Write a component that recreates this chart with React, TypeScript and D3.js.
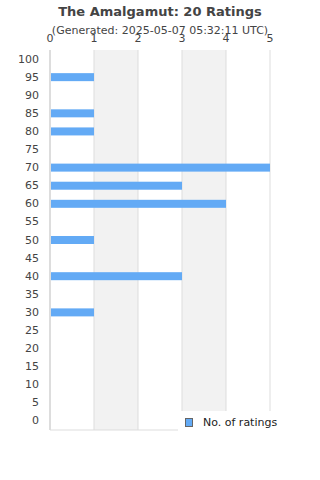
import React from "react";
import * as d3 from "d3";

const categories = [100, 95, 90, 85, 80, 75, 70, 65, 60, 55, 50, 45, 40, 35, 30, 25, 20, 15, 10, 5, 0];
const ratings = [0, 1, 0, 1, 1, 0, 5, 3, 4, 0, 1, 0, 3, 0, 1, 0, 0, 0, 0, 0, 0];
const xTicks = [0, 1, 2, 3, 4, 5];

const WIDTH = 320;
const HEIGHT = 480;
const MARGIN = { top: 50, right: 50, bottom: 50, left: 50 };
const FONT = "DejaVu Sans, sans-serif";
const BAR = "#63aaf5";

export default function App() {
  const innerW = WIDTH - MARGIN.left - MARGIN.right;
  const innerH = HEIGHT - MARGIN.top - MARGIN.bottom;

  const x = d3.scaleLinear().domain([0, 5]).range([MARGIN.left, MARGIN.left + innerW]);
  const y = d3
    .scaleBand<number>()
    .domain(categories)
    .range([MARGIN.top, MARGIN.top + innerH]);

  const barH = 8;

  return (
    <svg
      width={WIDTH}
      height={HEIGHT}
      style={{ position: "absolute", left: 0, top: 0, background: "#fff" }}
      fontFamily={FONT}
    >
      {/* alternating bands */}
      {xTicks.slice(0, -1).map((t, i) =>
        i % 2 === 1 ? (
          <rect key={"band" + t} x={x(t)} y={MARGIN.top} width={x(t + 1) - x(t)} height={innerH} fill="#f2f2f2" />
        ) : null
      )}
      {/* grid lines */}
      {xTicks.map((t) => (
        <line key={"g" + t} x1={x(t)} x2={x(t)} y1={MARGIN.top} y2={MARGIN.top + innerH} stroke="#ddd" strokeWidth={1} />
      ))}
      <line x1={MARGIN.left} x2={MARGIN.left} y1={MARGIN.top} y2={MARGIN.top + innerH} stroke="#ccc" />
      <line x1={MARGIN.left} x2={MARGIN.left + innerW} y1={MARGIN.top + innerH} y2={MARGIN.top + innerH} stroke="#ddd" />

      {/* bars */}
      {categories.map((c, i) =>
        ratings[i] > 0 ? (
          <rect
            key={"b" + c}
            x={x(0) + 1}
            y={(y(c) as number) + y.bandwidth() / 2 - barH / 2}
            width={x(ratings[i]) - x(0) - 1}
            height={barH}
            fill={BAR}
          />
        ) : null
      )}

      {/* y labels */}
      {categories.map((c) => (
        <text
          key={"yl" + c}
          x={39}
          y={(y(c) as number) + y.bandwidth() / 2}
          textAnchor="end"
          dominantBaseline="central"
          fontSize={11}
          fill="#444"
        >
          {c}
        </text>
      ))}

      {/* x labels */}
      {xTicks.map((t) => (
        <text key={"xl" + t} x={x(t)} y={42} textAnchor="middle" fontSize={11} fill="#444">
          {t}
        </text>
      ))}

      {/* titles */}
      <text x={160} y={16} textAnchor="middle" fontSize={13} fontWeight="bold" fill="#444">
        The Amalgamut: 20 Ratings
      </text>
      <text x={160} y={34} textAnchor="middle" fontSize={11} fill="#444">
        (Generated: 2025-05-07 05:32:11 UTC)
      </text>

      {/* legend */}
      <rect x={178} y={411} width={142} height={24} fill="#fff" />
      <rect x={185.5} y={418.5} width={7} height={8} fill={BAR} stroke="#666" strokeWidth={1} />
      <text x={203} y={422.5} dominantBaseline="central" fontSize={11} fill="#222">
        No. of ratings
      </text>
    </svg>
  );
}
